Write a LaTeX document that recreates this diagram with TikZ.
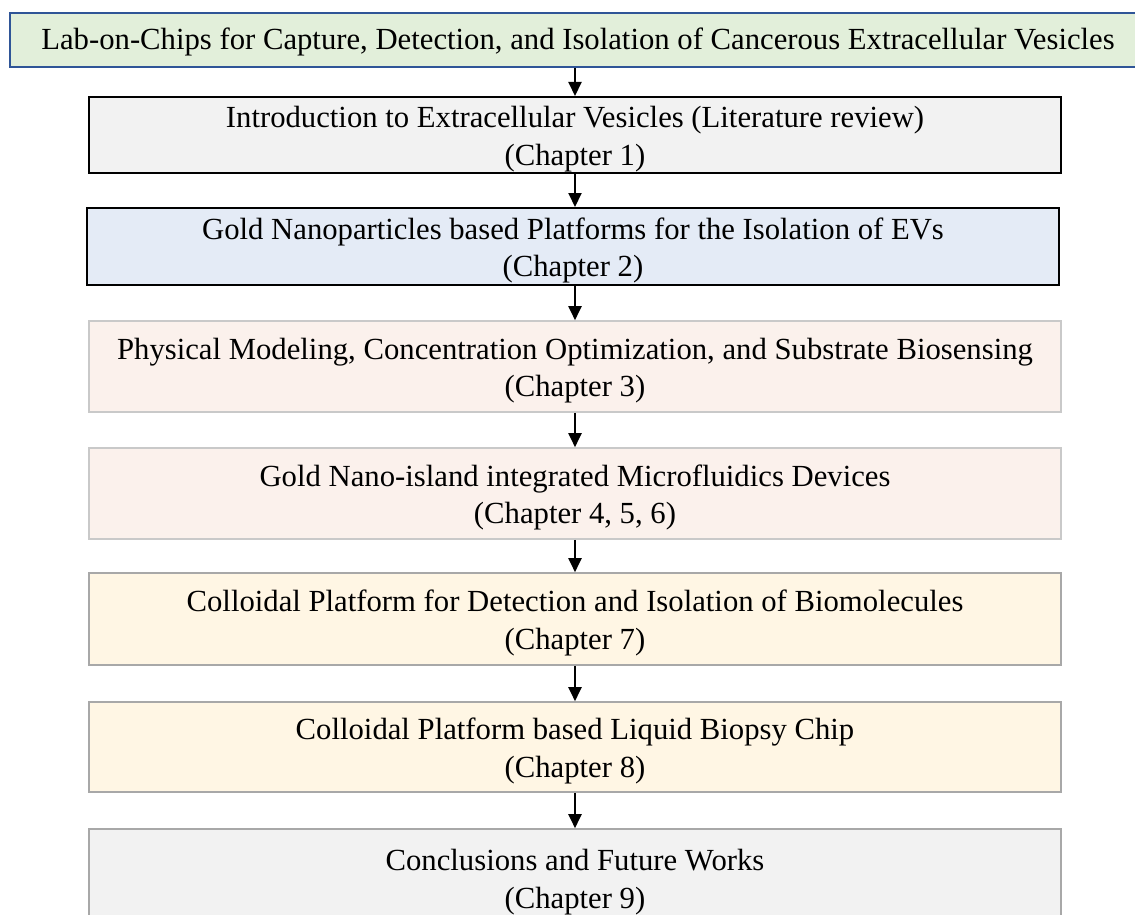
\documentclass[tikz,border=0pt]{standalone}
\usepackage{fontspec}
\setmainfont{Liberation Serif}
\usetikzlibrary{arrows.meta}

\definecolor{titlefill}{HTML}{E2EFDA}
\definecolor{titleline}{HTML}{2F5597}
\definecolor{greyfill}{HTML}{F2F2F2}
\definecolor{bluefill}{HTML}{E4EBF6}
\definecolor{peachfill}{HTML}{FBF1EC}
\definecolor{creamfill}{HTML}{FFF6E4}
\definecolor{lightline}{HTML}{C9C9C9}
\definecolor{midline}{HTML}{A8A8A8}

\tikzset{
  x=1pt, y=1pt,
  boxtext/.style={align=center, inner sep=0pt,
    font=\fontsize{30.7pt}{37.5pt}\selectfont},
  chapbox/.style={rectangle, minimum width=972pt, inner sep=0pt},
  darkbox/.style={chapbox, draw=black, line width=2pt},
  softbox/.style={chapbox, draw=lightline, line width=1.6pt},
  greybox/.style={chapbox, draw=midline, line width=1.6pt},
  % chapter title set slightly below the box centre
  chap/.style={label={[boxtext, yshift=-4pt]center:#1}},
  flow/.style={-{Triangle[length=14pt,width=13pt]}, line width=2pt, black},
}

\begin{document}
\begin{tikzpicture}
  \useasboundingbox (0,0) rectangle (1135,-915);
  \clip (0,0) rectangle (1135,-915);

  % title banner, running off the right edge
  \node[rectangle, draw=titleline, fill=titlefill, line width=1.6pt,
        minimum width=1170pt, minimum height=54pt, inner sep=0pt,
        label={[boxtext, xshift=-17pt, yshift=-2pt]center:Lab-on-Chips for Capture, Detection, and Isolation of Cancerous Extracellular Vesicles}]
    (title) at (595,-40) {};

  % chapter boxes
  \node[darkbox, fill=greyfill, minimum height=76pt,
        chap={Introduction to Extracellular Vesicles (Literature review)\\(Chapter 1)}]
    (c1) at (575,-135) {};
  \node[darkbox, fill=bluefill, minimum height=77pt,
        chap={Gold Nanoparticles based Platforms for the Isolation of EVs\\(Chapter 2)}]
    (c2) at (573,-246.5) {};
  \node[softbox, fill=peachfill, minimum height=91pt,
        chap={Physical Modeling, Concentration Optimization, and Substrate Biosensing\\(Chapter 3)}]
    (c3) at (575,-366.5) {};
  \node[softbox, fill=peachfill, minimum height=91pt,
        chap={Gold Nano-island integrated Microfluidics Devices\\(Chapter 4, 5, 6)}]
    (c4) at (575,-493.5) {};
  \node[greybox, fill=creamfill, minimum height=92pt,
        chap={Colloidal Platform for Detection and Isolation of Biomolecules\\(Chapter 7)}]
    (c5) at (575,-619) {};
  \node[greybox, fill=creamfill, minimum height=90pt,
        chap={Colloidal Platform based Liquid Biopsy Chip\\(Chapter 8)}]
    (c6) at (575,-747) {};
  \node[greybox, fill=greyfill, minimum height=98pt,
        chap={Conclusions and Future Works\\(Chapter 9)}]
    (c7) at (575,-878) {};

  % flow arrows
  \draw[flow] (title.south -| c1.north) -- (c1.north);
  \draw[flow] (c1.south) -- (c1.south |- c2.north);
  \draw[flow] (c2.south -| c1.south) -- (c3.north);
  \draw[flow] (c3) -- (c4);
  \draw[flow] (c4.south) -- (c5.north);
  \draw[flow] (c5.south) -- (c6.north);
  \draw[flow] (c6.south) -- (c7.north);
\end{tikzpicture}
\end{document}
